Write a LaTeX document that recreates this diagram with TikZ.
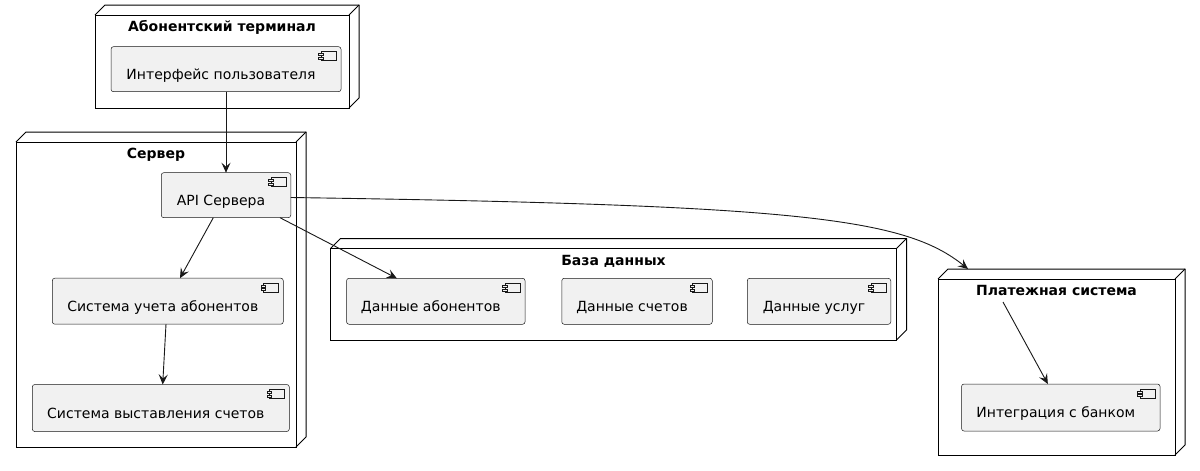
\documentclass[tikz,border=0pt]{standalone}
\usepackage{fontspec}
\setmainfont{DejaVu Sans}
\usetikzlibrary{calc,arrows.meta}
\definecolor{compfill}{HTML}{F1F1F1}
\definecolor{compline}{HTML}{181818}
\tikzset{
  nodebox/.style={draw=black, line width=1pt, fill=white, outer sep=0pt, inner sep=0pt},
  nodeline/.style={draw=black, line width=1pt, line join=round},
  compbox/.style={draw=compline, line width=0.5pt, fill=compfill, rounded corners=2.5pt, outer sep=0pt, inner sep=0pt},
  comptext/.style={anchor=base, inner sep=0pt, font=\fontsize{14}{16}\selectfont, text=black},
  nodetitle/.style={anchor=base, inner sep=0pt, font=\fontsize{14}{16}\selectfont\bfseries, text=black},
  iconline/.style={draw=compline, line width=0.5pt, fill=compfill},
  conn/.style={draw=compline, line width=0.9pt, -{Stealth[length=10pt,width=9pt,inset=4pt]}},
}
\newcommand{\threed}[1]{%
  \draw[nodeline] (#1.north west) -- ++(10,-10) -- ($(#1.north east)+(10,-10)$) -- ($(#1.south east)+(10,-10)$) -- (#1.south east);
  \draw[nodeline] (#1.north east) -- ++(10,-10);}
\newcommand{\compicon}[1]{%
  \draw[iconline] ($(#1.north east)+(-20,5)$) rectangle ($(#1.north east)+(-5,14)$);
  \draw[iconline] ($(#1.north east)+(-22.5,7)$) rectangle ($(#1.north east)+(-18,9)$);
  \draw[iconline] ($(#1.north east)+(-22.5,10.5)$) rectangle ($(#1.north east)+(-18,12.5)$);}
\begin{document}
\begin{tikzpicture}[x=1pt,y=-1pt]
\useasboundingbox (0,0) rectangle (1200,471);
% deployment nodes
\node[nodebox, minimum width=254pt, minimum height=93pt] (term) at (222,61.5) {};
\threed{term}
\node[nodebox, minimum width=280pt, minimum height=305pt] (srv) at (156,294.5) {};
\threed{srv}
\node[nodebox, minimum width=566pt, minimum height=91.5pt] (db) at (613.5,294.25) {};
\threed{db}
\node[nodebox, minimum width=237pt, minimum height=176pt] (pay) at (1056.5,367) {};
\threed{pay}
% titles
\node[nodetitle] (termt) at ($(term.north)+(0,16.5)$) {Абонентский терминал};
\node[nodetitle] (srvt) at ($(srv.north)+(0,16.5)$) {Сервер};
\node[nodetitle] (dbt) at ($(db.north)+(0,16.5)$) {База данных};
\node[nodetitle] (payt) at ($(pay.north)+(0,16.5)$) {Платежная система};
% components
\node[compbox, minimum width=230pt, minimum height=45pt] (ui) at (226,69.2) {};
\node[compbox, minimum width=129.5pt, minimum height=45pt] (api) at (226,195.2) {};
\node[compbox, minimum width=231pt, minimum height=46pt] (sua) at (167.8,301.2) {};
\node[compbox, minimum width=257pt, minimum height=47pt] (svs) at (160.8,408) {};
\node[compbox, minimum width=178.5pt, minimum height=46pt] (dab) at (435.8,301.3) {};
\node[compbox, minimum width=150.5pt, minimum height=46pt] (dsc) at (637,301.3) {};
\node[compbox, minimum width=143.5pt, minimum height=46pt] (dus) at (819,301.3) {};
\node[compbox, minimum width=198.5pt, minimum height=47pt] (bank) at (1060.8,407.5) {};
\foreach \c in {ui,api,sua,svs,dab,dsc,dus,bank}{\compicon{\c}}
\node[comptext] (uit) at ($(ui.north)+(-5,33)$) {Интерфейс пользователя};
\node[comptext] (apit) at ($(api.north)+(-5,33)$) {API Сервера};
\node[comptext] (suat) at ($(sua.north)+(-5,33)$) {Система учета абонентов};
\node[comptext] (svst) at ($(svs.north)+(-5,33.5)$) {Система выставления счетов};
\node[comptext] (dabt) at ($(dab.north)+(-5,33)$) {Данные абонентов};
\node[comptext] (dsct) at ($(dsc.north)+(-5,33)$) {Данные счетов};
\node[comptext] (dust) at ($(dus.north)+(-5,33)$) {Данные услуг};
\node[comptext] (bankt) at ($(bank.north)+(-5,33.5)$) {Интеграция с банком};
% connectors
\draw[conn] (ui.south) -- (api.north);
\draw[conn] ($(api.south)+(-12.7,0)$) -- ($(sua.north)+(12.2,0)$);
\draw[conn] ($(api.south)+(54,0)$) -- ($(dab.north)+(-39,0)$);
\draw[conn] ($(sua.south)+(-1.8,0)$) -- ($(svs.north)+(1.9,0)$);
\draw[conn] ($(api.east)+(0,2.3)$) .. controls (800,205) and (905,218) .. ($(pay.north west)+(30,-10)$);
\draw[conn] ($(pay.north west)+(65,23)$) -- ($(bank.north west)+(86.3,0)$);
\end{tikzpicture}
\end{document}
